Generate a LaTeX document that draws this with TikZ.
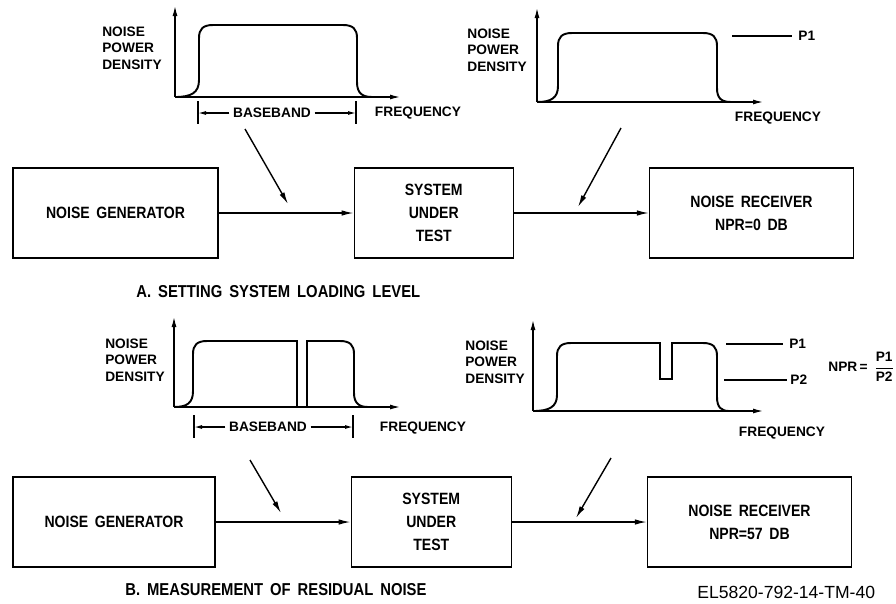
\documentclass[tikz,border=0pt]{standalone}
\usepackage{amsmath}
\usepackage{fontspec}
\setmainfont{Liberation Sans}
\newfontfamily\letterfont[FakeStretch=0.86, WordSpace=1.7]{Liberation Sans}
\usepackage{tikz}
\usetikzlibrary{arrows.meta, positioning}

\begin{document}
\begin{tikzpicture}[
    x=0.02cm, y=-0.02cm,
    node distance=2.7cm,
    blockbox/.style={draw, line width=0.75pt, minimum height=1.8cm, align=center, font=\letterfont\bfseries\fontsize{9.3}{13}\selectfont},
    flow/.style={-{Latex[length=2.4mm, width=1.1mm]}, line width=0.8pt},
    axis/.style={-{Latex[length=2mm, width=1mm]}, line width=0.7pt},
    dim/.style={-{Latex[length=1.6mm, width=0.8mm]}, line width=0.7pt, shorten <=2pt},
    curve/.style={line width=1.1pt},
    plotlabel/.style={inner sep=0pt, align=left, font=\bfseries\fontsize{7.8}{9.4}\selectfont},
    caption/.style={inner sep=0pt, anchor=west, font=\letterfont\bfseries\fontsize{9.8}{12}\selectfont}
]
    \useasboundingbox (0,0) rectangle (896,603);

    % ---- A: top spectra
    \draw[axis] (175,97) -- (175,6);
    \draw[axis] (175,97) -- (400,97);
    \draw[curve] (175,97) .. controls (191,97) and (199,93) .. (199,80) -- (199,38) .. controls (199,29) and (203,25) .. (213,25) -- (343,25) .. controls (353,25) and (357,29) .. (357,38) -- (357,82) .. controls (357,93) and (362,97) .. (372,97);
    \node[plotlabel, anchor=west] (npd1) at (102,48) {NOISE\\POWER\\DENSITY};
    \node[plotlabel] (freq1) at (418,113) {FREQUENCY};
    \node[plotlabel] (bb1) at (272,113) {BASEBAND};
    \coordinate (bbl1) at (198,113);
    \coordinate (bbr1) at (356,113);
    \draw[line width=0.7pt] (198,101) -- (198,124) (356,101) -- (356,124);
    \draw[dim] (bb1.west) -- (bbl1);
    \draw[dim] (bb1.east) -- (bbr1);

    \draw[axis] (537,102) -- (537,8);
    \draw[axis] (537,102) -- (763,102);
    \draw[curve] (537,102) .. controls (551,102) and (558,98) .. (558,86) -- (558,46) .. controls (558,37) and (562,33) .. (572,33) -- (703,33) .. controls (713,33) and (717,37) .. (717,46) -- (717,88) .. controls (717,98) and (721,102) .. (731,102);
    \node[plotlabel, anchor=west] (npd2) at (467,50) {NOISE\\POWER\\DENSITY};
    \node[plotlabel] (freq2) at (778,118) {FREQUENCY};
    \coordinate (p1a) at (732,36);
    \coordinate (p1b) at (792,36);
    \draw[line width=0.8pt] (p1a) -- (p1b);
    \node[plotlabel, right=1.2mm of p1b] (p1lbl) {P1};

    % ---- A: blocks
    \node[blockbox, minimum width=4.1cm] (gen1) at (115.5,213) {NOISE GENERATOR};
    \node[blockbox, minimum width=3.18cm, right=of gen1] (sut1) {SYSTEM\\UNDER\\TEST};
    \node[blockbox, minimum width=4.08cm, right=of sut1] (rec1) {NOISE RECEIVER\\NPR=0 DB};
    \draw[flow] (gen1) -- (sut1);
    \draw[flow] (sut1) -- (rec1);
    \coordinate (d1) at (245,129);
    \coordinate (in1) at (288,204);
    \coordinate (d2) at (621,128);
    \coordinate (out1) at (578,207);
    \draw[flow] (d1) -- (in1);
    \draw[flow] (d2) -- (out1);
    \node[caption] (capA) at (136,292) {A. SETTING SYSTEM LOADING LEVEL};

    % ---- B: bottom spectra
    \draw[axis] (174,407) -- (174,317);
    \draw[axis] (174,407) -- (400,407);
    \draw[curve] (174,407) .. controls (187,407) and (193,403) .. (193,391) -- (193,354) .. controls (193,345) and (197,341) .. (207,341) -- (297,341) -- (297,407);
    \draw[curve] (307,407) -- (307,341) -- (340,341) .. controls (350,341) and (354,345) .. (354,354) -- (354,393) .. controls (354,403) and (359,407) .. (368,407);
    \node[plotlabel, anchor=west] (npd3) at (105,360) {NOISE\\POWER\\DENSITY};
    \node[plotlabel] (freq3) at (423,428) {FREQUENCY};
    \node[plotlabel] (bb2) at (268,427) {BASEBAND};
    \coordinate (bbl2) at (194,427);
    \coordinate (bbr2) at (353,427);
    \draw[line width=0.7pt] (194,415) -- (194,438) (353,415) -- (353,438);
    \draw[dim] (bb2.west) -- (bbl2);
    \draw[dim] (bb2.east) -- (bbr2);

    \draw[axis] (533,411) -- (533,320);
    \draw[axis] (533,411) -- (763,411);
    \draw[curve] (533,411) .. controls (549,411) and (557,407) .. (557,395) -- (557,356) .. controls (557,347) and (561,343) .. (571,343) -- (660,343) -- (660,379) -- (672,379) -- (672,343) -- (703,343) .. controls (713,343) and (717,347) .. (717,356) -- (717,397) .. controls (717,407) and (721,411) .. (729,411);
    \node[plotlabel, anchor=west] (npd4) at (465,362) {NOISE\\POWER\\DENSITY};
    \node[plotlabel] (freq4) at (782,433) {FREQUENCY};
    \coordinate (p1c) at (726,344);
    \coordinate (p1d) at (783,344);
    \coordinate (p2c) at (724,380);
    \coordinate (p2d) at (787,380);
    \draw[line width=0.8pt] (p1c) -- (p1d) (p2c) -- (p2d);
    \node[plotlabel, right=1.2mm of p1d] (p1lbl2) {P1};
    \node[plotlabel, right=0.6mm of p2d] (p2lbl) {P2};
    \node[plotlabel, anchor=west] (npr) at (828,367) {NPR\,=\, $\dfrac{\text{P1}}{\text{P2}}$};

    % ---- B: blocks
    \node[blockbox, minimum width=4.04cm] (gen2) at (114,522) {NOISE GENERATOR};
    \node[blockbox, minimum width=3.2cm, right=of gen2] (sut2) {SYSTEM\\UNDER\\TEST};
    \node[blockbox, minimum width=4.08cm, right=of sut2] (rec2) {NOISE RECEIVER\\NPR=57 DB};
    \draw[flow] (gen2) -- (sut2);
    \draw[flow] (sut2) -- (rec2);
    \coordinate (d3) at (250,460);
    \coordinate (in2) at (281,513);
    \coordinate (d4) at (611,458);
    \coordinate (out2) at (576,518);
    \draw[flow] (d3) -- (in2);
    \draw[flow] (d4) -- (out2);
    \node[caption] (capB) at (125,590) {B. MEASUREMENT OF RESIDUAL NOISE};
    \node[inner sep=0pt, anchor=west, font=\fontsize{10}{12}\selectfont] (figid) at (697,592) {EL5820-792-14-TM-40};
\end{tikzpicture}
\end{document}
